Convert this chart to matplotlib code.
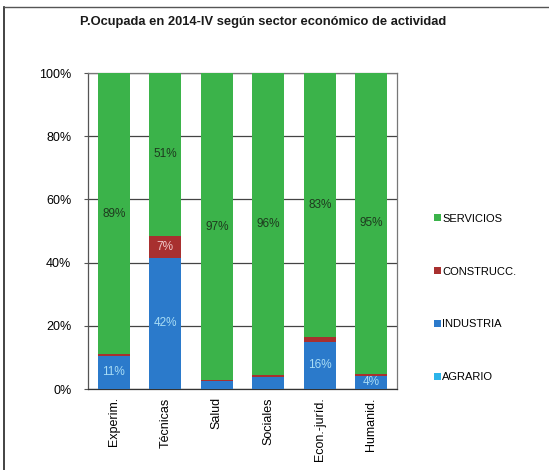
import matplotlib
matplotlib.use("Agg")
import matplotlib.pyplot as plt
from matplotlib.lines import Line2D
from matplotlib.patches import Patch
import numpy as np

plt.rcParams['font.family'] = ['Liberation Sans', 'DejaVu Sans']

categories = ["Experim.", "Técnicas", "Salud", "Sociales", "Econ.-juríd.", "Humanid."]
agrario = [0.0, 0.0, 0.0, 0.0, 0.0, 0.0]
industria = [10.5, 41.5, 2.5, 3.9, 15.0, 4.2]
construcc = [0.5, 7.0, 0.3, 0.4, 1.5, 0.6]
servicios = [89.0, 51.5, 97.2, 95.7, 83.5, 95.2]

industria_labels = ["11%", "42%", "", "", "16%", "4%"]
construcc_labels = ["", "7%", "", "", "", ""]
servicios_labels = ["89%", "51%", "97%", "96%", "83%", "95%"]

title = "P.Ocupada en 2014-IV según sector económico de actividad"
series_names = ["SERVICIOS", "CONSTRUCC.", "INDUSTRIA", "AGRARIO"]

c_serv = "#3bb34a"
c_cons = "#a8302f"
c_ind = "#2b7acb"
c_agr = "#2cb4ea"

W, H = 549, 470
fig = plt.figure(figsize=(W / 100, H / 100), dpi=100)
ax = fig.add_axes([88 / W, 1 - 389 / H, (397 - 88) / W, (389 - 73) / H])

x = np.arange(len(categories))
bw = 0.63
a = np.array(agrario)
i = np.array(industria)
c = np.array(construcc)
s = np.array(servicios)

ax.bar(x, a, bw, color=c_agr, zorder=3)
ax.bar(x, i, bw, bottom=a, color=c_ind, zorder=3)
ax.bar(x, c, bw, bottom=a + i, color=c_cons, zorder=3)
ax.bar(x, s, bw, bottom=a + i + c, color=c_serv, zorder=3)

for k in range(len(categories)):
    if industria_labels[k]:
        ax.text(x[k], a[k] + i[k] / 2, industria_labels[k], ha="center", va="center",
                fontsize=8.5, color="#a8dcf5", zorder=4)
    if construcc_labels[k]:
        ax.text(x[k], a[k] + i[k] + c[k] / 2, construcc_labels[k], ha="center", va="center",
                fontsize=8.5, color="#f0c8c8", zorder=4)
    if servicios_labels[k]:
        ax.text(x[k], a[k] + i[k] + c[k] + s[k] / 2, servicios_labels[k], ha="center",
                va="center", fontsize=8.5, color="#1e3a1e", zorder=4)

ax.set_xlim(-0.5, len(categories) - 0.5)
ax.set_ylim(0, 100)
ax.set_yticks([0, 20, 40, 60, 80, 100])
ax.set_yticklabels(["0%", "20%", "40%", "60%", "80%", "100%"], fontsize=9)
ax.set_xticks(x)
ax.set_xticklabels(categories, rotation=90, fontsize=9)
ax.tick_params(axis="x", length=0, pad=6)
ax.tick_params(axis="y", length=3, color="#555555", pad=9)
ax.yaxis.grid(True, color="#444444", linewidth=0.9, zorder=1)
for sp in ax.spines.values():
    sp.set_color("#777777")
    sp.set_linewidth(0.9)
ax.spines["left"].set_color("#555555")
ax.spines["bottom"].set_color("#333333")

fig.text(263 / W, 1 - 22 / H, title, ha="center", va="center", fontsize=9.3,
         fontweight="bold", color="#1a1a1a")

handles = [Patch(facecolor=c_serv), Patch(facecolor=c_cons), Patch(facecolor=c_ind),
           Patch(facecolor=c_agr)]
leg = fig.legend(handles, series_names, loc="center left",
                 bbox_to_anchor=(424 / W, 1 - 298 / H), frameon=False, fontsize=8,
                 handlelength=0.6, handleheight=0.6, handletextpad=0.15,
                 labelspacing=3.85)

fig.add_artist(Line2D([4 / W, 4 / W], [0, 1 - 7 / H], color="#222222", linewidth=1.2))
fig.add_artist(Line2D([4 / W, 1], [1 - 7 / H, 1 - 7 / H], color="#555555", linewidth=1.0))

fig.savefig("out.png", dpi=100)
